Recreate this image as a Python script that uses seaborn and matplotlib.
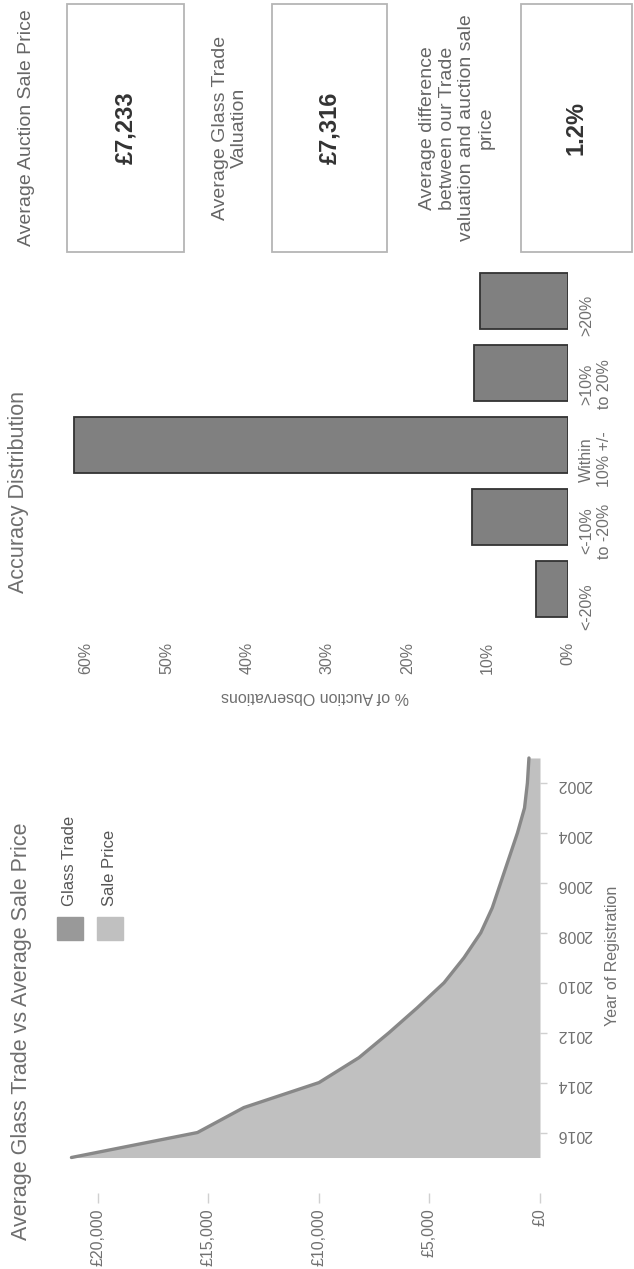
import matplotlib
matplotlib.use("Agg")
import matplotlib.pyplot as plt
import seaborn as sns
import pandas as pd
from matplotlib.patches import Rectangle

# --- data ---------------------------------------------------------------
years = list(range(2001, 2018))
glass_trade = [500, 570, 700, 1020, 1400, 1780, 2160, 2680, 3440, 4340,
               5550, 6830, 8190, 10000, 13400, 15500, 21200]
sale_price = [500, 570, 700, 1020, 1400, 1780, 2160, 2680, 3440, 4340,
              5550, 6830, 8190, 10000, 13400, 15500, 21200]

price_ticks = [0, 5000, 10000, 15000, 20000]
price_tick_labels = ["£0", "£5,000", "£10,000", "£15,000", "£20,000"]
year_ticks = [2002, 2004, 2006, 2008, 2010, 2012, 2014, 2016]

accuracy_bands = ["<-20%", "<-10%\nto -20%", "Within\n10% +/-", ">10%\nto 20%", ">20%"]
accuracy_pct = [4.0, 12.0, 61.5, 11.7, 11.0]
pct_ticks = [0, 10, 20, 30, 40, 50, 60]
pct_tick_labels = ["0%", "10%", "20%", "30%", "40%", "50%", "60%"]

kpi_labels = ["Average Auction Sale Price",
              "Average Glass Trade\nValuation",
              "Average difference\nbetween our Trade\nvaluation and auction sale\nprice"]
kpi_values = ["£7,233", "£7,316", "1.2%"]

df_price = pd.DataFrame({"Year": years, "Glass Trade": glass_trade, "Sale Price": sale_price})
df_acc = pd.DataFrame({"Band": accuracy_bands, "Pct": accuracy_pct})

# --- style --------------------------------------------------------------
sns.set_style("white")
plt.rcParams["font.family"] = ["Liberation Sans", "DejaVu Sans"]

W, H = 634, 1269
fig = plt.figure(figsize=(W / 100, H / 100), dpi=100)


def fx(px):
    return px / W


def fy(py):
    return 1 - py / H


def axes_px(left, top, right, bottom):
    return fig.add_axes([fx(left), fy(bottom), fx(right) - fx(left), fy(top) - fy(bottom)])


title_col = "#6e6e6e"
tick_col = "#707070"
tick_size = 11.5

# --- panel 1: glass trade vs sale price (drawn sideways) ----------------
ax1 = axes_px(50, 753, 540, 1160)
ax1.fill_betweenx(df_price["Year"], 0, df_price["Sale Price"], color="#c0c0c0", lw=0)
sns.lineplot(data=df_price, x="Glass Trade", y="Year", orient="y", ax=ax1,
             color="#888888", linewidth=2.4, legend=False, solid_capstyle="round")
ax1.set_xlim(22170, 0)
ax1.set_ylim(2017.1, 2000.8)
for s in ax1.spines.values():
    s.set_visible(False)
ax1.spines["bottom"].set_position(("outward", 24))
ax1.set_xticks(price_ticks)
ax1.set_xticklabels(price_tick_labels, rotation=90, color=tick_col, fontsize=tick_size)
ax1.tick_params(axis="x", bottom=True, length=7, color="#d0d0d0", width=1, pad=4)
ax1.yaxis.tick_right()
ax1.set_yticks(year_ticks)
ax1.set_yticklabels([str(y) for y in year_ticks], rotation=180, color=tick_col, fontsize=tick_size)
ax1.tick_params(axis="y", right=True, length=5, color="#d0d0d0", width=1, pad=7)
ax1.set_xlabel("")
ax1.set_ylabel("")
fig.text(fx(612), fy(956), "Year of Registration", rotation=90, ha="center", va="center",
         color=tick_col, fontsize=tick_size)
fig.text(fx(22), fy(1240), "Average Glass Trade vs Average Sale Price", rotation=90,
         ha="center", va="bottom", color=title_col, fontsize=15.5)

# legend, laid sideways like the rest
for cx, col, name in [(70, "#999999", "Glass Trade"), (110, "#c0c0c0", "Sale Price")]:
    fig.patches.append(Rectangle((fx(cx - 13), fy(940)), fx(26), 23 / H, color=col,
                                 transform=fig.transFigure))
    fig.text(fx(cx), fy(906), name, rotation=90, ha="center", va="bottom",
             color="#555555", fontsize=12)

# --- panel 2: accuracy distribution -------------------------------------
ax2 = axes_px(62, 265, 568, 625)
sns.barplot(data=df_acc, x="Pct", y="Band", order=accuracy_bands[::-1], orient="h",
            color="#808080", saturation=1, edgecolor="#333333", linewidth=1.3,
            width=0.77, ax=ax2)
ax2.set_xlim(63, 0)
for s in ax2.spines.values():
    s.set_visible(False)
ax2.set_xticks(pct_ticks)
ax2.set_xticklabels(pct_tick_labels, rotation=90, color=tick_col, fontsize=tick_size)
ax2.tick_params(axis="x", length=0, pad=12)
ax2.yaxis.tick_right()
ax2.tick_params(axis="y", length=0, pad=8, labelrotation=90, labelcolor=tick_col,
                labelsize=tick_size)
for t in ax2.get_yticklabels():
    t.set_multialignment("center")
ax2.set_xlabel("")
ax2.set_ylabel("")
fig.text(fx(315), fy(697), "% of Auction Observations", rotation=180, ha="center",
         va="center", color=tick_col, fontsize=tick_size)
fig.text(fx(19), fy(593), "Accuracy Distribution", rotation=90, ha="center", va="bottom",
         color=title_col, fontsize=15.5)

# --- panel 3: headline numbers ------------------------------------------
label_x = [27, 230, 457]
boxes = [(67, 184), (272, 387), (521, 632)]
for lx, (b0, b1), lab, val in zip(label_x, boxes, kpi_labels, kpi_values):
    fig.text(fx(lx), fy(128), lab, rotation=90, ha="center", va="center",
             multialignment="center", color="#666666", fontsize=14)
    fig.patches.append(Rectangle((fx(b0), fy(252)), fx(b1 - b0), 248 / H, facecolor="white",
                                 edgecolor="#b5b5b5", lw=1.3, transform=fig.transFigure))
    fig.text(fx((b0 + b1) / 2), fy(128), val, rotation=90, ha="center", va="center",
             color="#333333", fontsize=17, fontweight="bold")

fig.savefig("out.png", dpi=100, facecolor="white")
